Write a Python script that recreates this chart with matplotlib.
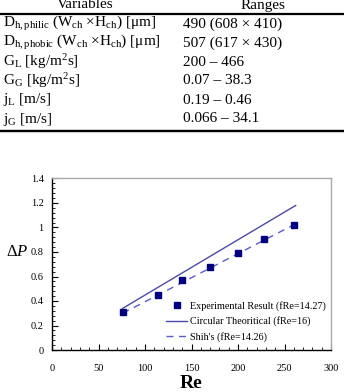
import matplotlib
matplotlib.use("Agg")
import matplotlib.pyplot as plt
from matplotlib.lines import Line2D
from matplotlib.ticker import MultipleLocator

plt.rcParams['font.family'] = ['Liberation Serif', 'DejaVu Serif']
plt.rcParams['mathtext.fontset'] = 'custom'
plt.rcParams['mathtext.rm'] = 'Liberation Serif'
plt.rcParams['mathtext.it'] = 'Liberation Serif:italic'
plt.rcParams['mathtext.bf'] = 'Liberation Serif:bold'

# Table data
table_header = ["Variables", "Ranges"]
table_vars = [
    r"D$_{\rm h,philic}$ (W$_{\rm ch}$ ×H$_{\rm ch}$) [μm]",
    r"D$_{\rm h,phobic}$ (W$_{\rm ch}$ ×H$_{\rm ch}$) [μm]",
    r"G$_{\rm L}$ [kg/m$^{\rm 2}$s]",
    r"G$_{\rm G}$ [kg/m$^{\rm 2}$s]",
    r"j$_{\rm L}$ [m/s]",
    r"j$_{\rm G}$ [m/s]",
]
table_ranges = [
    "490 (608 × 410)",
    "507 (617 × 430)",
    "200 – 466",
    "0.07 – 38.3",
    "0.19 – 0.46",
    "0.066 – 34.1",
]

# Chart data
re_vals = [76, 114, 140, 170, 200, 228, 260]
dp_exp = [0.31, 0.45, 0.57, 0.68, 0.79, 0.91, 1.02]
line_re = [76, 262]
dp_circ = [0.34, 1.18]
dp_shih = [0.30, 1.03]
legend_labels = ["Experimental Result (fRe=14.27)",
                 "Circular Theoritical (fRe=16)",
                 "Shih's (fRe=14.26)"]
x_ticks = [0, 50, 100, 150, 200, 250, 300]
x_ticklabels = ['0', '50', '100', '150', '200', '250', '300']
y_ticks = [0, 0.2, 0.4, 0.6, 0.8, 1.0, 1.2, 1.4]
y_ticklabels = ['0', '0.2', '0.4', '0.6', '0.8', '1', '1.2', '1.4']

W, H = 344, 392
fig = plt.figure(figsize=(W / 100, H / 100), dpi=100)

def fy(py):
    return 1 - py / H

def fx(px):
    return px / W

# Table
fig.text(fx(85), fy(8.5), table_header[0], fontsize=11, ha='center', va='baseline')
fig.text(fx(263), fy(8.5), table_header[1], fontsize=11, ha='center', va='baseline')
fig.add_artist(Line2D([0, 1], [fy(13.5), fy(13.5)], color='black', lw=1.6))
row_y = [24, 43, 62, 81, 100, 119]
for y, v, r in zip(row_y, table_vars, table_ranges):
    fig.text(fx(3), fy(y), v, fontsize=11, ha='left', va='center')
    fig.text(fx(183), fy(y), r, fontsize=11, ha='left', va='center')
fig.add_artist(Line2D([0, 1], [fy(129.5), fy(129.5)], color='black', lw=1.0))
fig.add_artist(Line2D([0, 1], [fy(131), fy(131)], color='black', lw=1.0))

# Chart
ax_l, ax_r, ax_t, ax_b = 52, 331, 178.5, 350
ax = fig.add_axes([fx(ax_l), fy(ax_b), fx(ax_r) - fx(ax_l), fy(ax_t) - fy(ax_b)])
ax.plot(line_re, dp_circ, color='#4a4aa8', lw=1.0, label=legend_labels[1])
ax.plot(line_re, dp_shih, color='#5a5ad0', lw=1.0, ls=(0, (5, 4)), label=legend_labels[2])
ax.plot(re_vals, dp_exp, ls='none', marker='s', ms=5, color='#000080', label=legend_labels[0])

ax.set_xlim(0, 300)
ax.set_ylim(0, 1.4)
ax.set_xticks(x_ticks)
ax.set_xticklabels(x_ticklabels)
ax.set_yticks(y_ticks)
ax.set_yticklabels(y_ticklabels)
ax.xaxis.set_minor_locator(MultipleLocator(10))
ax.yaxis.set_minor_locator(MultipleLocator(0.04))
ax.tick_params(axis='both', which='both', direction='in', labelsize=7.5, color='black')
ax.tick_params(axis='x', which='major', length=4, pad=10)
ax.tick_params(axis='x', which='minor', length=2.5)
ax.tick_params(axis='y', which='major', length=4, pad=6)
ax.tick_params(axis='y', which='minor', length=2.5)

for s in ['left', 'bottom']:
    ax.spines[s].set_color('black')
    ax.spines[s].set_linewidth(1.0)
for s in ['top', 'right']:
    ax.spines[s].set_color('#aaaaaa')
    ax.spines[s].set_linewidth(1.0)

handles, labels = ax.get_legend_handles_labels()
order = [2, 0, 1]
leg_x = (166 - ax_l) / (ax_r - ax_l)
leg_y = 1 - (301 - ax_t) / (ax_b - ax_t)
ax.legend([handles[i] for i in order], [labels[i] for i in order],
          loc='upper left', bbox_to_anchor=(leg_x, leg_y),
          frameon=False, borderaxespad=0, borderpad=0,
          fontsize=7.3, handlelength=2.1, handletextpad=0.25, labelspacing=0.55)

fig.text(fx(17), fy(252), r"$\Delta\mathit{P}$", fontsize=12, ha='center', va='center')
fig.text(fx(191), fy(383), "Re", fontsize=14, fontweight='bold', ha='center', va='center')

fig.savefig("out.png", dpi=100)
